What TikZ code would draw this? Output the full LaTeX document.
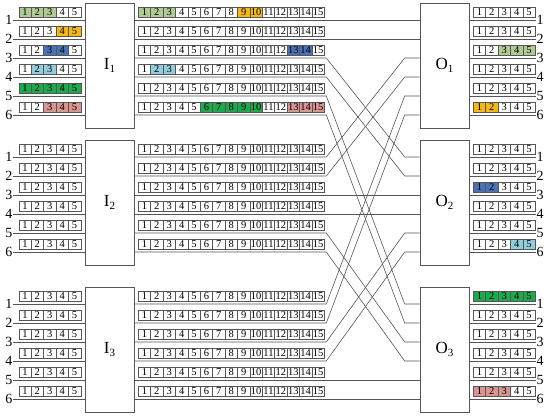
\documentclass[tikz,border=0pt]{standalone}
\usepackage{fontspec}
\setmainfont{Liberation Serif}
\definecolor{cLG}{HTML}{AFCB93}
\definecolor{cOR}{HTML}{F5B915}
\definecolor{cDB}{HTML}{4A72B5}
\definecolor{cLB}{HTML}{93CDDD}
\definecolor{cGR}{HTML}{1DAA4F}
\definecolor{cPK}{HTML}{D99592}
\definecolor{lineC}{HTML}{555555}
\tikzset{
 cell/.style={draw=lineC, line width=0.5pt, minimum width=12.4pt, minimum height=10pt, inner sep=0pt, anchor=north west, font=\fontsize{10.5}{10.5}\selectfont},
 swbox/.style={draw=lineC, line width=0.6pt, minimum width=49pt, minimum height=125pt, inner sep=0pt, font=\fontsize{17}{17}\selectfont},
 wire/.style={draw=lineC, line width=0.6pt},
 portlab/.style={inner sep=0.5pt, font=\fontsize{14}{14}\selectfont},
}
\newcommand{\cellrowX}[4]{%
  \foreach \ii in {1,...,#4}{\node[cell] (#1-\ii) at ({#2+(\ii-1)*12.4},#3) {\ii};}%
}
% x0, T, k, a, b, colour
\newcommand{\fillcellsX}[6]{%
  \fill[#6] ({#1+(#4-1)*12.4},{#2+4+19*(#3-1)}) rectangle ({#1+#5*12.4},{#2+14+19*(#3-1)});%
}
\begin{document}
\begin{tikzpicture}[x=1pt,y=-1pt]
\useasboundingbox (0,0) rectangle (550,417);
% coloured cells (drawn first, behind the cell outlines)
\fillcellsX{18.5}{3}{1}{1}{3}{cLG}
\fillcellsX{18.5}{3}{2}{4}{5}{cOR}
\fillcellsX{18.5}{3}{3}{3}{4}{cDB}
\fillcellsX{18.5}{3}{4}{2}{3}{cLB}
\fillcellsX{18.5}{3}{5}{1}{5}{cGR}
\fillcellsX{18.5}{3}{6}{3}{5}{cPK}
\fillcellsX{138}{3}{1}{1}{3}{cLG}
\fillcellsX{138}{3}{1}{9}{10}{cOR}
\fillcellsX{138}{3}{3}{13}{14}{cDB}
\fillcellsX{138}{3}{4}{2}{3}{cLB}
\fillcellsX{138}{3}{6}{6}{10}{cGR}
\fillcellsX{138}{3}{6}{13}{15}{cPK}
\fillcellsX{473}{3}{3}{3}{5}{cLG}
\fillcellsX{473}{3}{6}{1}{2}{cOR}
\fillcellsX{473}{140}{3}{1}{2}{cDB}
\fillcellsX{473}{140}{6}{4}{5}{cLB}
\fillcellsX{473}{287}{1}{1}{5}{cGR}
\fillcellsX{473}{287}{6}{1}{3}{cPK}
% blocks
\foreach \b/\T in {1/3,2/140,3/287}{
  \node[swbox] (I\b) at (109.5,{\T+62.5}) {I\raisebox{-0.35ex}{\fontsize{11}{11}\selectfont\b}};
  \node[swbox] (O\b) at (444.5,{\T+62.5}) {O\raisebox{-0.35ex}{\fontsize{11}{11}\selectfont\b}};
  \foreach \k in {1,...,6}{
    \pgfmathsetmacro\yl{\T+17+19*(\k-1)}
    \pgfmathsetmacro\yt{\T+4+19*(\k-1)}
    \cellrowX{L\b-\k}{18.5}{\yt}{5}
    \cellrowX{M\b-\k}{138}{\yt}{15}
    \cellrowX{R\b-\k}{473}{\yt}{5}
    \node[portlab,anchor=east] (il\b-\k) at (13,\yl) {\k};
    \draw[wire] (il\b-\k.east) -- (I\b.west |- il\b-\k.east);
    \coordinate (src\b-\k) at (I\b.east |- il\b-\k.east);
    \node[portlab,anchor=west] (ol\b-\k) at (536,\yl) {\k};
    \draw[wire] (O\b.east |- ol\b-\k.west) -- (ol\b-\k.west);
    \coordinate (dst\b-\k) at (O\b.west |- ol\b-\k.west);
  }
}
% interconnection wires
\foreach \b in {1,2,3}{
  \foreach \k in {1,...,6}{
    \pgfmathtruncatemacro\g{ceil(\k/2)}
    \pgfmathtruncatemacro\j{2*(\b-1)+2-mod(\k,2)}
    \ifnum\g=\b
      \draw[wire] (src\b-\k) -- (dst\g-\j);
    \else
      \draw[wire] (src\b-\k) -- ++(192,0) -- ([xshift=-15pt]dst\g-\j) -- (dst\g-\j);
    \fi
  }
}
\end{tikzpicture}
\end{document}
